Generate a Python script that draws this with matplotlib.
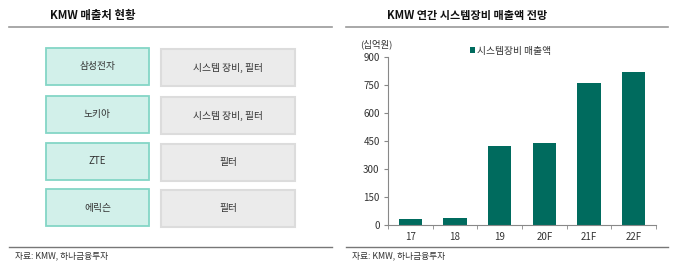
import matplotlib
matplotlib.use("Agg")
import matplotlib.pyplot as plt
from matplotlib.patches import Rectangle

plt.rcParams['font.family'] = ['Noto Sans CJK KR', 'DejaVu Sans']

# data
customers = ["삼성전자", "노키아", "ZTE", "에릭슨"]
products = ["시스템 장비, 필터", "시스템 장비, 필터", "필터", "필터"]
years = ["17", "18", "19", "20F", "21F", "22F"]
sales = [32, 37, 423, 441, 759, 818]
yticks = [0, 150, 300, 450, 600, 750, 900]

BAR = "#006B5E"
INK = "#333333"
LINE = "#9A9A9A"

W, H = 680, 272
fig = plt.figure(figsize=(6.8, 2.72), dpi=100)
bg = fig.add_axes([0, 0, 1, 1])
bg.set_xlim(0, W); bg.set_ylim(H, 0); bg.axis("off")

# left panel
bg.text(50, 16, "KMW 매출처 현황", ha="left", va="center", fontsize=8.2,
        fontweight="bold", color="#111111")
bg.plot([9, 332], [27, 27], color=LINE, lw=1.2)
bg.plot([9, 332], [247, 247], color="#777777", lw=1.0)
bg.text(15, 256, "자료: KMW, 하나금융투자", ha="left", va="center", fontsize=6.3, color=INK)

row_tops = [48, 96, 143, 189]
bh = 37
for cust, prod, yt in zip(customers, products, row_tops):
    bg.add_patch(Rectangle((46, yt), 103, bh, fc="#D2F0EA", ec="#84D6C6", lw=1.3))
    bg.text(46 + 103 / 2, yt + bh / 2, cust, ha="center", va="center",
            fontsize=7, color=INK)
    bg.add_patch(Rectangle((161, yt + 1), 134, bh, fc="#EBEBEB", ec="#DCDCDC", lw=1.5))
    bg.text(161 + 134 / 2, yt + 1 + bh / 2, prod, ha="center", va="center",
            fontsize=7, color=INK)

# right panel
bg.text(387, 16, "KMW 연간 시스템장비 매출액 전망", ha="left", va="center", fontsize=8,
        fontweight="bold", color="#111111")
bg.plot([346, 668], [27, 27], color=LINE, lw=1.2)
bg.plot([346, 668], [247, 247], color="#777777", lw=1.0)
bg.text(352, 256, "자료: KMW, 하나금융투자", ha="left", va="center", fontsize=6.3, color=INK)
bg.text(360, 44, "(십억원)", ha="left", va="center", fontsize=6.8, color=INK)

ax = fig.add_axes([388 / W, (H - 225) / H, (656 - 388) / W, (225 - 57) / H])
ax.bar(range(len(years)), sales, width=0.52, color=BAR, label="시스템장비 매출액")
ax.set_xlim(-0.5, len(years) - 0.5)
ax.set_ylim(0, 900)
ax.set_yticks(yticks)
ax.set_xticks(range(len(years)))
ax.set_xticklabels(years)
ax.set_xticks([i - 0.5 for i in range(len(years) + 1)], minor=True)
ax.tick_params(axis="x", which="major", length=0, pad=5, labelsize=7, labelcolor=INK)
ax.tick_params(axis="x", which="minor", length=3, direction="out", color="#888888")
ax.tick_params(axis="y", length=3, direction="out", color="#888888", labelsize=7,
               labelcolor=INK, pad=3)
for s in ("top", "right"):
    ax.spines[s].set_visible(False)
for s in ("left", "bottom"):
    ax.spines[s].set_color("#888888")
    ax.spines[s].set_linewidth(0.8)
ax.patch.set_alpha(0)

leg = ax.legend(loc="upper left", bbox_to_anchor=(0.29, 1.09), frameon=False,
                fontsize=7, handlelength=0.6, handleheight=0.6, handletextpad=0.2,
                borderaxespad=0)
for t in leg.get_texts():
    t.set_color(INK)

fig.savefig("out.png", dpi=100)
